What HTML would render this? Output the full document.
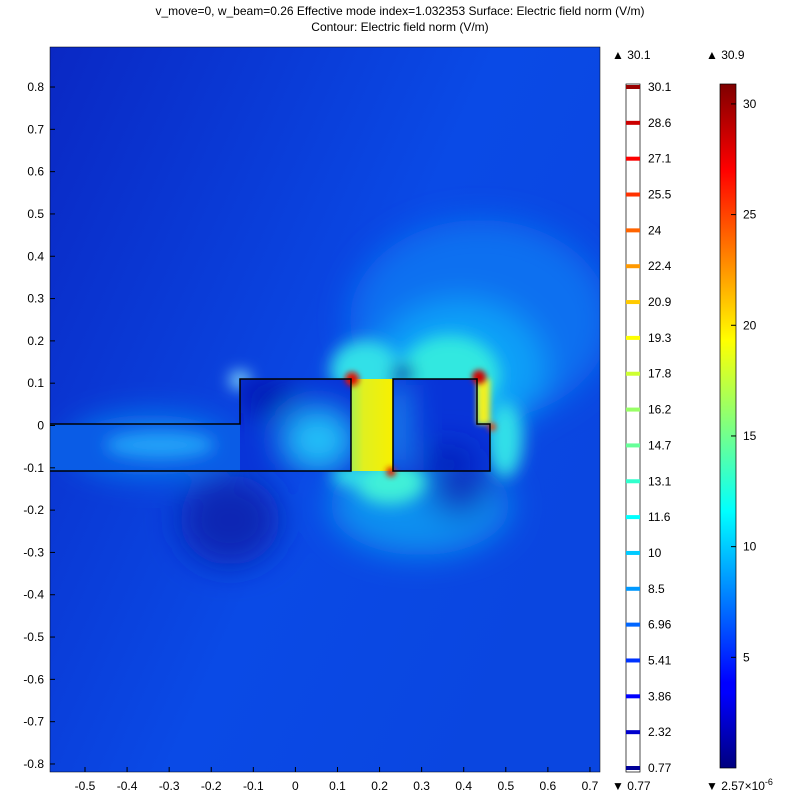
<!DOCTYPE html>
<html><head><meta charset="utf-8"><style>
body{margin:0;background:#fff;width:800px;height:800px;overflow:hidden;font-family:"Liberation Sans",sans-serif}
svg text{font-family:"Liberation Sans",sans-serif;font-size:12px;fill:#000}
</style></head><body>
<svg id="s" width="800" height="800">
<defs>
<linearGradient id="bg" x1="0" y1="0" x2="1" y2="0.6">
<stop offset="0" stop-color="#0a28c4"/><stop offset="0.6" stop-color="#0a4ae6"/><stop offset="1" stop-color="#0a46e0"/></linearGradient>
<filter id="b1" x="-50%" y="-50%" width="200%" height="200%"><feGaussianBlur stdDeviation="16"/></filter>
<filter id="b2" x="-50%" y="-50%" width="200%" height="200%"><feGaussianBlur stdDeviation="8"/></filter>
<filter id="b3" x="-50%" y="-50%" width="200%" height="200%"><feGaussianBlur stdDeviation="3"/></filter>
<clipPath id="pc"><rect x="50" y="47" width="550" height="725"/></clipPath>
<clipPath id="gap"><rect x="351" y="379" width="42" height="92"/></clipPath>
<clipPath id="r1"><rect x="240" y="379" width="111" height="92"/></clipPath>
<clipPath id="r2"><path d="M393 471V379H477V424H490V471Z"/></clipPath>
<linearGradient id="jet" x1="0" y1="1" x2="0" y2="0">
<stop offset="0" stop-color="#00007f"/><stop offset="0.11" stop-color="#0000ff"/><stop offset="0.125" stop-color="#0000ff"/><stop offset="0.375" stop-color="#00ffff"/><stop offset="0.625" stop-color="#ffff00"/><stop offset="0.875" stop-color="#ff0000"/><stop offset="1" stop-color="#7f0000"/></linearGradient>
<linearGradient id="gapg" x1="0" y1="0" x2="1" y2="0">
<stop offset="0" stop-color="#a8f050"/><stop offset="0.3" stop-color="#e0f020"/><stop offset="1" stop-color="#f8f000"/></linearGradient>
</defs>
<text x="400" y="15" text-anchor="middle">v_move=0, w_beam=0.26 Effective mode index=1.032353   Surface: Electric field norm (V/m)</text>
<text x="400" y="31" text-anchor="middle">Contour: Electric field norm (V/m)</text>
<g clip-path="url(#pc)">
<rect x="50" y="47" width="550" height="725" fill="url(#bg)"/>
<g filter="url(#b1)">
<ellipse cx="480" cy="320" rx="130" ry="100" fill="#1070f0"/>
<ellipse cx="460" cy="370" rx="85" ry="70" fill="#10a0f8"/>
<ellipse cx="150" cy="445" rx="80" ry="30" fill="#1080f0"/>
<ellipse cx="420" cy="505" rx="90" ry="50" fill="#1090f0"/>
<ellipse cx="230" cy="520" rx="50" ry="45" fill="#0826b4"/>
<ellipse cx="460" cy="485" rx="30" ry="30" fill="#0830c0"/>
</g>
<g filter="url(#b2)">
<ellipse cx="450" cy="375" rx="50" ry="40" fill="#30e8e0"/>
<ellipse cx="365" cy="370" rx="35" ry="30" fill="#30e0e8"/>
<ellipse cx="390" cy="482" rx="35" ry="22" fill="#40f0d8"/>
<ellipse cx="505" cy="440" rx="18" ry="38" fill="#30e0e8"/>
<ellipse cx="350" cy="475" rx="18" ry="12" fill="#30e0e8"/>
<ellipse cx="240" cy="380" rx="10" ry="8" fill="#a0ffff"/>
<ellipse cx="403" cy="374" rx="12" ry="9" fill="#0020b0"/>
</g>
<g clip-path="url(#r1)">
<rect x="240" y="379" width="111" height="92" fill="#0834d8"/>
<g filter="url(#b1)"><ellipse cx="318" cy="440" rx="38" ry="34" fill="#20c0f8"/>
<ellipse cx="265" cy="395" rx="30" ry="20" fill="#0018b0"/></g>
</g>
<rect x="50" y="424" width="190" height="47" fill="#0a5ce6"/>
<g filter="url(#b2)"><ellipse cx="160" cy="445" rx="55" ry="14" fill="#20a0f8"/></g>
<g clip-path="url(#r2)">
<rect x="393" y="379" width="97" height="92" fill="#0834d8"/>
<g filter="url(#b1)"><rect x="388" y="385" width="18" height="85" fill="#20b0f8"/>
<ellipse cx="450" cy="465" rx="25" ry="20" fill="#0020b8"/></g>
</g>
<g clip-path="url(#gap)">
<rect x="351" y="379" width="42" height="92" fill="url(#gapg)"/>
</g>
<rect x="477" y="379" width="13" height="45" fill="#f0f020" filter="url(#b3)"/>
<g filter="url(#b3)">
<circle cx="352" cy="379" r="7" fill="#e01000"/>
<circle cx="479" cy="377" r="7" fill="#d00000"/>
<circle cx="391" cy="472" r="5" fill="#e02000"/>
<circle cx="492" cy="427" r="4" fill="#f04000"/>
</g>
<g fill="none" stroke="#000" stroke-width="1.5">
<path d="M50 424H240V379H351V471H50"/>
<path d="M393 471V379H477V424H490V471Z"/>
</g>
</g>
<rect x="50" y="47" width="550" height="725" fill="none" stroke="#000" stroke-width="0.5"/>
<g id="axes"></g>
<g id="cb1"></g>
<g id="cb2"></g>
</svg>
<script>
const xTicks=[-0.5,-0.4,-0.3,-0.2,-0.1,0,0.1,0.2,0.3,0.4,0.5,0.6,0.7];
const yTicks=[0.8,0.7,0.6,0.5,0.4,0.3,0.2,0.1,0,-0.1,-0.2,-0.3,-0.4,-0.5,-0.6,-0.7,-0.8];
const contourLevels=[30.1,28.6,27.1,25.5,24,22.4,20.9,19.3,17.8,16.2,14.7,13.1,11.6,10,8.5,6.96,5.41,3.86,2.32,0.77];
const cb2Ticks=[5,10,15,20,25,30];
const NS="http://www.w3.org/2000/svg";
const X=v=>295.4+v*420.8, Y=v=>425.5-v*423.1;
function mk(t,a,p){const e=document.createElementNS(NS,t);for(const k in a)e.setAttribute(k,a[k]);p.appendChild(e);return e;}
const ax=document.getElementById('axes');
xTicks.forEach(v=>{const t=mk('text',{x:X(v),y:790,'text-anchor':'middle'},ax);t.textContent=(v===0?'0':String(v));


mk('line',{x1:X(v),x2:X(v),y1:772,y2:767,stroke:'#000'},ax);});
yTicks.forEach(v=>{const t=mk('text',{x:44,y:Y(v)+4,'text-anchor':'end'},ax);t.textContent=(v===0?'0':String(v));


mk('line',{x1:50,x2:55,y1:Y(v),y2:Y(v),stroke:'#000'},ax);});
function jet(f){const r=Math.min(Math.max(Math.min(4*f-1.5,-4*f+4.5),0),1),g=Math.min(Math.max(Math.min(4*f-0.5,-4*f+3.5),0),1),b=Math.min(Math.max(Math.min(4*f+0.5,-4*f+2.5),0),1);return `rgb(${r*255|0},${g*255|0},${b*255|0})`;}
const c1=document.getElementById('cb1');
mk('rect',{x:626,y:84,width:14,height:688,fill:'#fff',stroke:'#000','stroke-width':0.7},c1);
const vmax=30.9;
const top1=87,bot1=768;
contourLevels.forEach((v,i)=>{const y=top1+(bot1-top1)*i/(contourLevels.length-1);
const r=mk('rect',{x:626,y:y-2,width:14,height:4,fill:jet(v/vmax)},c1);


const t=mk('text',{x:648,y:y+4},c1);t.textContent=v;

});
const t1=mk('text',{x:612,y:59},c1);t1.textContent='▲ 30.1';
const t2=mk('text',{x:612,y:790},c1);t2.textContent='▼ 0.77';
const c2=document.getElementById('cb2');
const bar=mk('rect',{x:720,y:84,width:16,height:684,fill:'url(#jet)',stroke:'#000','stroke-width':0.7},c2);


const Yc=v=>768-v*684/vmax;
cb2Ticks.forEach(v=>{mk('line',{x1:731,x2:736,y1:Yc(v),y2:Yc(v),stroke:'#000'},c2);
const t=mk('text',{x:743,y:Yc(v)+4},c2);t.textContent=v;

});
const t3=mk('text',{x:706,y:59},c2);t3.textContent='▲ 30.9';
const t4=mk('text',{x:706,y:790},c2);t4.innerHTML='▼ 2.57×10<tspan dy="-5" font-size="9">-6</tspan>';
</script>
</body></html>
